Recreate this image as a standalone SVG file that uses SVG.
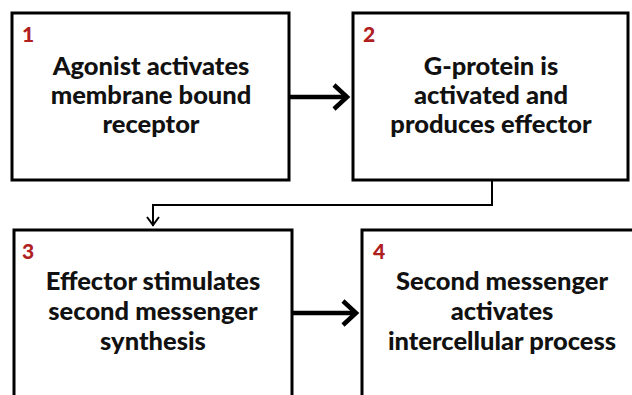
<svg xmlns="http://www.w3.org/2000/svg" width="632" height="395" viewBox="0 0 632 395">
<style>
.box{fill:#fff;stroke:#000;stroke-width:3}
.t{font-family:Lato,"Liberation Sans",sans-serif;font-weight:900;font-size:25.5px;fill:#111;text-anchor:middle}
.n{font-family:Lato,"Liberation Sans",sans-serif;font-weight:900;font-size:21px;fill:#b0201f}
.thick{fill:none;stroke:#000;stroke-width:4.5}
.thin{fill:none;stroke:#000;stroke-width:2}
</style>
<rect width="632" height="395" fill="#fff"/>
<g id="node1">
<rect class="box" x="12" y="13" width="277" height="167"/>
<text class="n" x="22" y="42">1</text>
<text class="t" x="151" y="75">Agonist activates</text>
<text class="t" x="151" y="104">membrane bound</text>
<text class="t" x="151" y="133">receptor</text>
</g>
<g id="node2">
<rect class="box" x="353" y="13" width="275" height="167"/>
<text class="n" x="363" y="42">2</text>
<text class="t" x="491" y="75">G-protein is</text>
<text class="t" x="491" y="104">activated and</text>
<text class="t" x="491" y="133">produces effector</text>
</g>
<g id="node3">
<rect class="box" x="14" y="230" width="278" height="175"/>
<text class="n" x="22" y="259">3</text>
<text class="t" x="153" y="290">Effector stimulates</text>
<text class="t" x="153" y="320">second messenger</text>
<text class="t" x="153" y="350">synthesis</text>
</g>
<g id="node4">
<rect class="box" x="362" y="230" width="285" height="175"/>
<text class="n" x="373" y="259">4</text>
<text class="t" x="502" y="290">Second messenger</text>
<text class="t" x="502" y="320">activates</text>
<text class="t" x="502" y="350">intercellular process</text>
</g>
<g id="connectors">
<path class="thick" d="M289 97 H346"/>
<path class="thick" d="M334 85 L347 97 L334 109"/>
<path class="thin" d="M492 180 V205 H153 V226"/>
<path class="thin" d="M147 217 L153 225 L159 217"/>
<path class="thick" d="M292 313 H356"/>
<path class="thick" d="M343 301 L356 313 L343 325"/>
</g>
</svg>
